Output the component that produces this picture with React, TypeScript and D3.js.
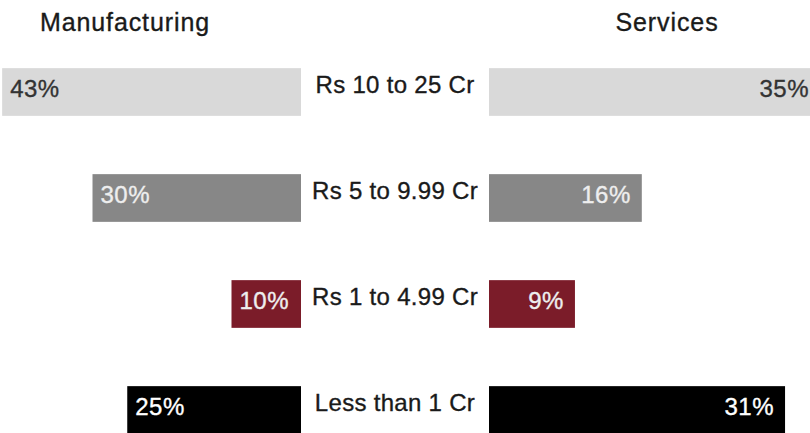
import React, { useEffect, useRef } from "react";
import * as d3 from "d3";

const categories = ["Rs 10 to 25 Cr", "Rs 5 to 9.99 Cr", "Rs 1 to 4.99 Cr", "Less than 1 Cr"];
const manufacturing = [43, 30, 10, 25];
const services = [35, 16, 9, 31];
const colors = ["#d9d9d9", "#878787", "#7b1c29", "#000000"];
const labelColors = ["#333333", "#eeeeee", "#eeeeee", "#ffffff"];

const width = 810;
const height = 433;
const font = "'Liberation Sans', Arial, sans-serif";

const App = () => {
  const svgRef = useRef(null);

  useEffect(() => {
    const svg = d3.select(svgRef.current);
    svg.selectAll("*").remove();

    const y = d3.scaleBand().domain(categories).range([39, 463]).paddingInner(0.55).paddingOuter(0.275);
    const xm = d3.scaleLinear().domain([0, 10]).range([0, 69.5]);
    const xs = d3.scaleLinear().domain([0, 10]).range([0, 95.5]);
    const mRight = 301;
    const sLeft = 489;

    const g = svg.append("g");

    // headers
    g.append("text").attr("x", 125).attr("y", 31).attr("text-anchor", "middle")
      .style("font-family", font).style("font-size", "25px").style("letter-spacing", "0.9px")
      .attr("fill", "#1a1a1a").attr("stroke", "#1a1a1a").attr("stroke-width", 0.35).text("Manufacturing");
    g.append("text").attr("x", 667).attr("y", 31).attr("text-anchor", "middle")
      .style("font-family", font).style("font-size", "25px").style("letter-spacing", "0.9px")
      .attr("fill", "#1a1a1a").attr("stroke", "#1a1a1a").attr("stroke-width", 0.35).text("Services");

    const rows = g.selectAll(".row").data(categories).join("g").attr("class", "row");

    rows.append("rect")
      .attr("x", (d, i) => mRight - xm(manufacturing[i]))
      .attr("y", d => y(d))
      .attr("width", (d, i) => xm(manufacturing[i]))
      .attr("height", y.bandwidth())
      .attr("fill", (d, i) => colors[i]);

    rows.append("rect")
      .attr("x", sLeft)
      .attr("y", d => y(d))
      .attr("width", (d, i) => xs(services[i]))
      .attr("height", y.bandwidth())
      .attr("fill", (d, i) => colors[i]);

    rows.append("text")
      .attr("x", (d, i) => mRight - xm(manufacturing[i]) + 8)
      .attr("y", d => y(d) + y.bandwidth() / 2 + 5)
      .style("font-family", font).style("font-size", "24px").style("letter-spacing", "0.5px")
      .attr("fill", (d, i) => labelColors[i])
      .attr("stroke", (d, i) => labelColors[i]).attr("stroke-width", 0.35)
      .text((d, i) => manufacturing[i] + "%");

    rows.append("text")
      .attr("x", (d, i) => Math.min(sLeft + xs(services[i]), 820) - 11)
      .attr("y", d => y(d) + y.bandwidth() / 2 + 5)
      .attr("text-anchor", "end")
      .style("font-family", font).style("font-size", "24px").style("letter-spacing", "0.5px")
      .attr("fill", (d, i) => labelColors[i])
      .attr("stroke", (d, i) => labelColors[i]).attr("stroke-width", 0.35)
      .text((d, i) => services[i] + "%");

    rows.append("text")
      .attr("x", (mRight + sLeft) / 2)
      .attr("y", d => y(d) + y.bandwidth() / 2 + 1)
      .attr("text-anchor", "middle")
      .style("font-family", font).style("font-size", "24px").style("letter-spacing", "0.3px")
      .attr("fill", "#1a1a1a").attr("stroke", "#1a1a1a").attr("stroke-width", 0.35)
      .text(d => d);
  }, []);

  return (
    <svg
      ref={svgRef}
      width={width}
      height={height}
      style={{ position: "absolute", left: 0, top: 0, background: "#fff" }}
    />
  );
};

export default App;
